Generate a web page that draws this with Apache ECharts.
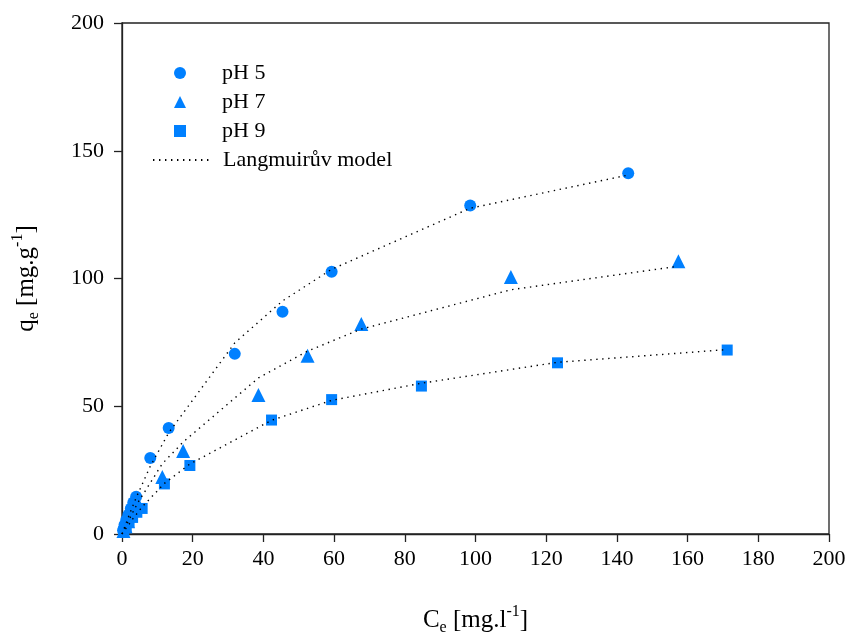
<!DOCTYPE html>
<html>
<head>
<meta charset="utf-8">
<title>Langmuirova izoterma</title>
<script src="https://cdn.jsdelivr.net/npm/echarts@6/dist/echarts.min.js"></script>
<style>
  html, body { margin: 0; padding: 0; background: #fff; }
  #chart { width: 848px; height: 634px; }
</style>
</head>
<body>
<div id="chart"></div>
<script>
// Rovnovážné koncentrace Ce [mg/l] a adsorbovaná množství qe [mg/g]
const ph5Ce = [0.3, 0.7, 1.2, 1.8, 2.5, 3.2, 4.0, 8.0, 13.2, 31.9, 45.4, 59.3, 98.5, 143.2];
const ph5Qe = [1.5, 3.5, 5.5, 7.5, 10.0, 12.3, 14.6, 29.7, 41.5, 70.5, 87.0, 102.6, 128.6, 141.2];

const ph7Ce = [0.4, 1.0, 1.7, 2.5, 3.4, 4.5, 11.4, 17.3, 38.6, 52.5, 67.7, 110.0, 157.4];
const ph7Qe = [1.2, 3.0, 5.0, 7.2, 9.5, 12.0, 22.3, 32.5, 54.4, 69.8, 82.2, 100.6, 106.8];

const ph9Ce = [0.5, 1.2, 2.0, 3.0, 4.2, 5.7, 12.0, 19.2, 42.3, 59.3, 84.7, 123.2, 171.2];
const ph9Qe = [1.0, 2.5, 4.5, 6.5, 8.5, 10.0, 19.6, 26.8, 44.6, 52.6, 57.9, 67.0, 72.0];

// Průběh Langmuirova modelu pro jednotlivá pH
const model5Ce = [0, 2, 4, 8, 13.2, 31.9, 45.4, 59.3, 98.5, 143.2];
const model5Qe = [0, 7.3, 14.2, 26.5, 39.6, 74.8, 91.2, 103.6, 127.5, 140.5];
const model7Ce = [0, 2.5, 4.5, 11.4, 17.3, 38.6, 52.5, 67.7, 110.0, 157.4];
const model7Qe = [0, 7.0, 12.3, 27.5, 36.0, 61.1, 71.6, 80.2, 95.6, 104.8];
const model9Ce = [0, 3.0, 5.7, 12.0, 19.2, 42.3, 59.3, 84.7, 123.2, 171.2];
const model9Qe = [0, 5.8, 10.6, 19.8, 27.4, 44.5, 52.3, 59.0, 67.2, 72.2];

const legendNames = ['pH 5', 'pH 7', 'pH 9', 'Langmuirův model'];

const FONT = '"Liberation Serif", "DejaVu Serif", serif';
const BLUE = '#0080ff';

const pairs = (xs, ys) => xs.map((x, i) => [x, ys[i]]);

const axisRich = {
  a: { fontFamily: FONT, fontSize: 25, color: '#000', lineHeight: 32, verticalAlign: 'middle' },
  s: { fontFamily: FONT, fontSize: 16, color: '#000', lineHeight: 32, verticalAlign: 'bottom' },
  p: { fontFamily: FONT, fontSize: 16, color: '#000', lineHeight: 32, verticalAlign: 'top' }
};

const legendText = { fontFamily: FONT, fontSize: 22, color: '#000', lineHeight: 22 };

function scatterSeries(name, symbol, size, xs, ys) {
  return {
    name: name,
    type: 'scatter',
    symbol: symbol,
    symbolSize: size,
    itemStyle: { color: BLUE, opacity: 1 },
    data: pairs(xs, ys),
    z: 2
  };
}

function modelSeries(xs, ys) {
  return {
    name: legendNames[3],
    type: 'line',
    symbol: 'none',
    smooth: false,
    // marker fill is transparent so the legend shows only the dotted stroke
    itemStyle: { color: 'rgba(0,0,0,0)' },
    lineStyle: { color: '#000', width: 1.4, type: [1.4, 4.6] },
    data: pairs(xs, ys),
    z: 3
  };
}

const chart = echarts.init(document.getElementById('chart'), null, { renderer: 'canvas' });

chart.setOption({
  animation: false,
  backgroundColor: '#fff',
  grid: {
    left: 122, right: 19, top: 23, bottom: 100,
    outerBoundsMode: 'none',
    show: true, borderColor: '#222', borderWidth: 1.3, backgroundColor: 'transparent'
  },
  legend: [
    {
      orient: 'vertical',
      left: 174,
      top: 62,
      padding: 0,
      itemWidth: 12,
      itemHeight: 12,
      itemGap: 7,
      textStyle: Object.assign({ padding: [0, 0, 0, 31] }, legendText),
      data: [
        { name: legendNames[0], icon: 'circle' },
        { name: legendNames[1], icon: 'triangle' },
        { name: legendNames[2], icon: 'rect' }
      ]
    },
    {
      orient: 'vertical',
      left: 152,
      top: 149,
      padding: 0,
      itemWidth: 56,
      itemHeight: 12,
      textStyle: Object.assign({ padding: [0, 0, 0, 9] }, legendText),
      data: [legendNames[3]]
    }
  ],
  xAxis: {
    type: 'value',
    min: 0, max: 200, interval: 20,
    name: '{a|C}{s|e}{a| [mg.l}{p|-1}{a|]}',
    nameLocation: 'middle',
    nameGap: 70,
    nameTextStyle: { rich: axisRich },
    axisLine: { lineStyle: { color: '#222', width: 1.3 } },
    axisTick: { show: true, inside: false, length: 8, lineStyle: { color: '#222', width: 1.3 } },
    axisLabel: { fontFamily: FONT, fontSize: 22, color: '#000', margin: 14 },
    splitLine: { show: false }
  },
  yAxis: {
    type: 'value',
    min: 0, max: 200, interval: 50,
    name: '{a|q}{s|e}{a| [mg.g}{p|-1}{a|]}',
    nameLocation: 'middle',
    nameRotate: 90,
    nameGap: 80,
    nameTextStyle: { rich: axisRich },
    axisLine: { lineStyle: { color: '#222', width: 1.3 } },
    axisTick: { show: true, inside: false, length: 8, lineStyle: { color: '#222', width: 1.3 } },
    axisLabel: { fontFamily: FONT, fontSize: 22, color: '#000', margin: 18 },
    splitLine: { show: false }
  },
  series: [
    scatterSeries(legendNames[0], 'circle', 12, ph5Ce, ph5Qe),
    scatterSeries(legendNames[1], 'triangle', 14, ph7Ce, ph7Qe),
    scatterSeries(legendNames[2], 'rect', 11, ph9Ce, ph9Qe),
    modelSeries(model5Ce, model5Qe),
    modelSeries(model7Ce, model7Qe),
    modelSeries(model9Ce, model9Qe)
  ]
});
</script>
</body>
</html>
